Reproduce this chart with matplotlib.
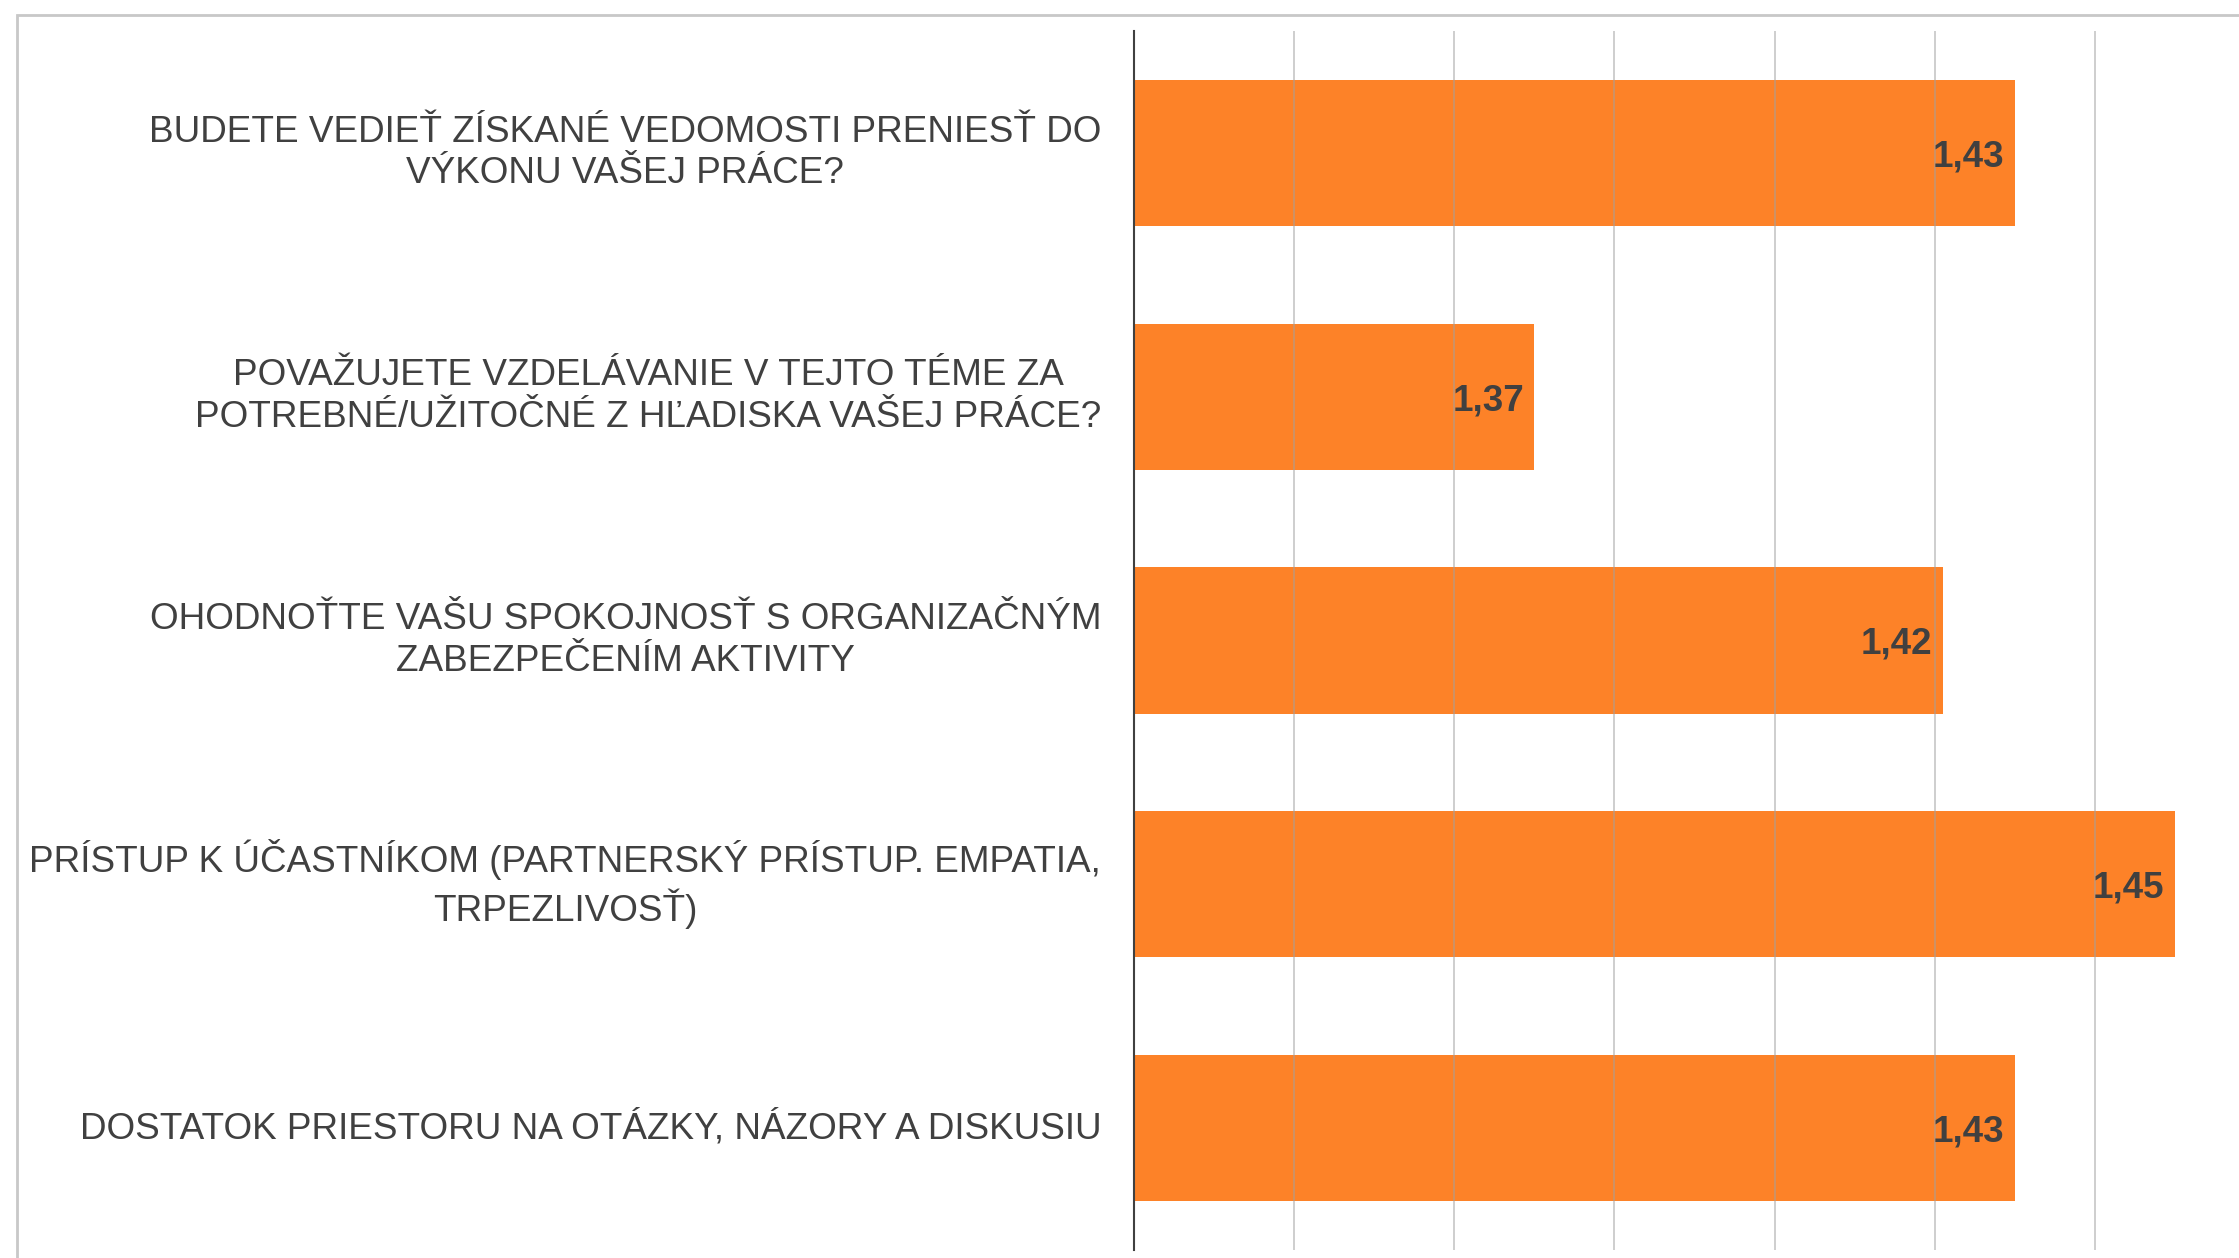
import matplotlib.pyplot as plt
from matplotlib.patches import Rectangle

# data (top to bottom)
questions = [
    'BUDETE VEDIEŤ ZÍSKANÉ VEDOMOSTI PRENIESŤ DO\nVÝKONU VAŠEJ PRÁCE?',
    'POVAŽUJETE VZDELÁVANIE V TEJTO TÉME ZA\nPOTREBNÉ/UŽITOČNÉ Z HĽADISKA VAŠEJ PRÁCE?',
    'OHODNOŤTE VAŠU SPOKOJNOSŤ S ORGANIZAČNÝM\nZABEZPEČENÍM AKTIVITY',
    'PRÍSTUP K ÚČASTNÍKOM (PARTNERSKÝ PRÍSTUP. EMPATIA,\nTRPEZLIVOSŤ)',
    'DOSTATOK PRIESTORU NA OTÁZKY, NÁZORY A DISKUSIU',
]
scores = [1.43, 1.37, 1.421, 1.45, 1.43]

plt.rcParams['font.family'] = ['Liberation Sans', 'DejaVu Sans']

fig = plt.figure(figsize=(22.39, 12.58), dpi=100)
ax = fig.add_axes([1134 / 2239, 8 / 1258, 1 - 1134 / 2239, (1250 - 31) / 1258])

ypos = list(range(len(scores)))
ax.barh(ypos, scores, height=0.6, color='#fd8228', zorder=2)
ax.set_xlim(1.32, 1.458)
ax.set_ylim(len(scores) - 0.5, -0.5)

# gridlines drawn faintly over the bars
for gx in [1.34, 1.36, 1.38, 1.40, 1.42, 1.44]:
    ax.axvline(gx, color='#a0a0a0', linewidth=1.2, alpha=0.6, zorder=3)

for s in ['top', 'right', 'bottom']:
    ax.spines[s].set_visible(False)
ax.spines['left'].set_color('#404040')
ax.spines['left'].set_linewidth(1.5)
ax.spines['left'].set_zorder(4)

ax.set_xticks([])
ax.set_yticks(ypos)
ax.set_yticklabels(questions, fontsize=26.6, color='#404040', multialignment='center',
                   linespacing=1.25, va='center')
ax.tick_params(axis='y', length=0, pad=23.5)

for y, v in zip(ypos, scores):
    ax.text(v - 0.0013, y, f'{v:.2f}'.replace('.', ','), ha='right', va='center_baseline',
            fontsize=26.5, fontweight='bold', color='#404040', zorder=5)

# light frame around the chart area
fig.patches.append(Rectangle((17 / 2239, -0.1), 1.2, 1 - 15 / 1258 + 0.1,
                             transform=fig.transFigure, fill=False,
                             edgecolor='#c8c8c8', linewidth=2))

fig.savefig('out.png', dpi=100)
